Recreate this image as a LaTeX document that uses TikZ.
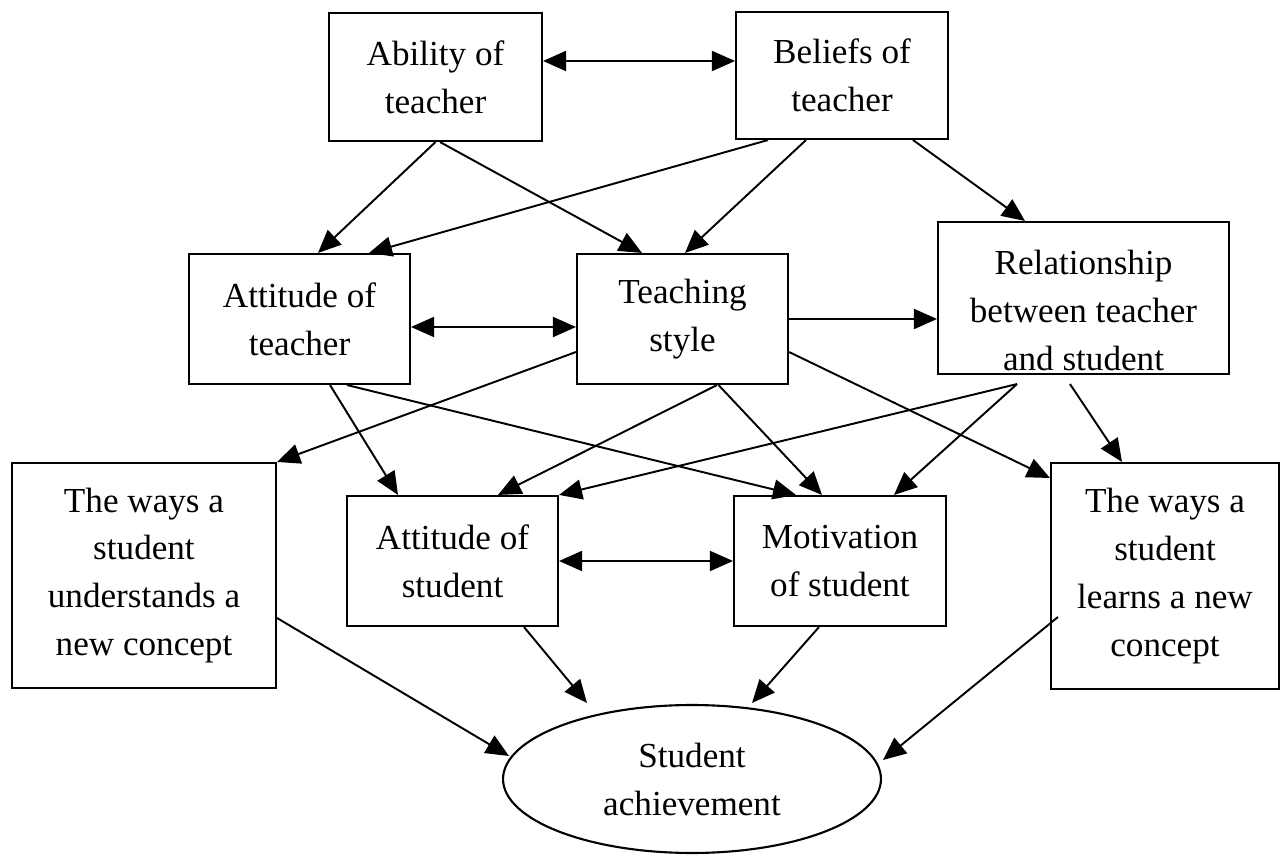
\documentclass[tikz,border=0pt]{standalone}
\usepackage{fontspec}
\setmainfont{Liberation Serif}
\usetikzlibrary{arrows.meta,calc,shapes.geometric}
\newcommand{\boxfont}{\fontsize{20}{27.3}\selectfont}

\begin{document}
\begin{tikzpicture}[x=0.02cm, y=-0.02cm,
    box/.style={draw, line width=1.2pt, inner sep=0pt, align=center, font=\boxfont},
    arr/.style={line width=1.1pt, -{Triangle[length=0.46cm,width=0.40cm]}},
    dblarr/.style={line width=1.1pt, {Triangle[length=0.46cm,width=0.40cm]}-{Triangle[length=0.46cm,width=0.40cm]}}]
    \useasboundingbox (0,0) rectangle (1281,857);

    % teacher side
    \node[box, minimum width=4.26cm, minimum height=2.56cm] (ability) at (435.5,77) {Ability of\\teacher};
    \node[box, minimum width=4.24cm, minimum height=2.54cm] (beliefs) at (842,75.5) {Beliefs of\\teacher};
    \node[box, minimum width=4.42cm, minimum height=2.60cm] (attteach) at (299.5,319) {Attitude of\\teacher};
    \node[box, minimum width=4.22cm, minimum height=2.60cm] (style) at (682.5,319) {Teaching\\style};
    \node[box, minimum width=5.82cm, minimum height=3.04cm] (relation) at (1083.5,298) {\rule{0pt}{28pt}Relationship\\between teacher\\and student};

    % student side
    \node[box, minimum width=5.28cm, minimum height=4.50cm] (understand) at (144,575.5) {The ways a\\student\\understands a\\new concept};
    \node[box, minimum width=4.22cm, minimum height=2.60cm] (attstud) at (452.5,561) {Attitude of\\student};
    \node[box, minimum width=4.24cm, minimum height=2.60cm] (motiv) at (840,561) {Motivation\\of student};
    \node[box, minimum width=4.56cm, minimum height=4.52cm] (learn) at (1165,576) {The ways a\\student\\learns a new\\concept};
    \node[box, ellipse, minimum width=7.56cm, minimum height=2.96cm] (achieve) at (692,779) {Student\\achievement};

    \draw[dblarr] ($(ability.east)+(0,-16)$) -- ($(beliefs.west)+(0,-14.5)$);
    \draw[arr] (ability.south) -- ($(attteach.north)+(18.5,0)$);
    \draw[arr] ($(ability.south)+(4.5,0)$) -- ($(style.north)+(-40.5,0)$);
    \draw[arr] ($(beliefs.south)+(-74,0)$) -- ($(attteach.north)+(69.5,0)$);
    \draw[arr] ($(beliefs.south)+(-36,0)$) -- ($(style.north)+(2.5,0)$);
    \draw[arr] ($(beliefs.south)+(71,0)$) -- ($(relation.north)+(-58.5,0)$);

    \draw[dblarr] ($(attteach.east)+(0,8)$) -- ($(style.west)+(0,8)$);
    \draw[arr] (style.east) -- ($(relation.west)+(0,21)$);
    \draw[arr] ($(style.west)+(0,33)$) -- (understand.north east);
    \draw[arr] ($(style.east)+(0,33)$) -- ($(learn.west)+(0,-98)$);
    \draw[arr] ($(style.south)+(34.5,0)$) -- ($(attstud.north)+(45.5,0)$);
    \draw[arr] ($(style.south)+(36,0)$) -- ($(motiv.north)+(-18,0)$);

    \draw[arr] ($(attteach.south)+(30.5,0)$) -- ($(attstud.north)+(-54.5,0)$);
    \draw[arr] ($(attteach.south)+(47.5,0)$) -- ($(motiv.north)+(-44,0)$);

    \draw[arr] ($(relation.south)+(-66.5,9)$) -- (attstud.north east);
    \draw[arr] ($(relation.south)+(-66.5,9)$) -- ($(motiv.north)+(54,0)$);
    \draw[arr] ($(relation.south)+(-13.5,9)$) -- ($(learn.north)+(-43,0)$);

    \draw[dblarr] (attstud.east) -- (motiv.west);

    % into achievement
    \draw[arr] ($(understand.east)+(0,42.5)$) -- ($(achieve.center)+(-183,-23)$);
    \draw[arr] ($(attstud.south)+(71.5,0)$) -- ($(achieve.center)+(-105,-76)$);
    \draw[arr] ($(motiv.south)+(-21,0)$) -- ($(achieve.center)+(60,-76)$);
    \draw[arr] ($(learn.west)+(8,41)$) -- ($(achieve.center)+(191,-19)$);
\end{tikzpicture}
\end{document}
